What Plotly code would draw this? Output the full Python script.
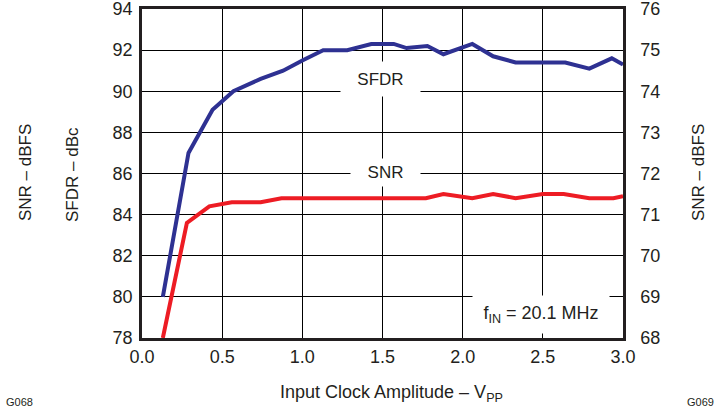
import plotly.graph_objects as go

# SFDR (left axis, dBc) vs input clock amplitude (Vpp)
sfdr_x = [0.13, 0.29, 0.44, 0.57, 0.74, 0.88, 1.00, 1.13, 1.28, 1.43, 1.57,
          1.65, 1.78, 1.88, 2.06, 2.19, 2.33, 2.64, 2.79, 2.93, 3.00]
sfdr = [80.0, 87.0, 89.1, 90.0, 90.6, 91.0, 91.5, 92.0, 92.0, 92.3, 92.3,
        92.1, 92.2, 91.8, 92.3, 91.7, 91.4, 91.4, 91.1, 91.6, 91.3]

# SNR (right axis, dBFS)
snr_x = [0.13, 0.28, 0.42, 0.56, 0.74, 0.87, 1.77, 1.88, 2.06, 2.19, 2.33,
         2.50, 2.63, 2.79, 2.94, 3.00]
snr = [68.0, 70.8, 71.2, 71.3, 71.3, 71.4, 71.4, 71.5, 71.4, 71.5, 71.4,
       71.5, 71.5, 71.4, 71.4, 71.45]

x_ticks = [0.0, 0.5, 1.0, 1.5, 2.0, 2.5, 3.0]

FONT = "Liberation Sans, Arial, sans-serif"
INK = "#231f20"
L, R, T, B = 142, 94, 9, 70

fig = go.Figure()
fig.add_trace(go.Scatter(x=sfdr_x, y=sfdr, mode="lines",
                         line=dict(color="#2e3192", width=4), yaxis="y"))
fig.add_trace(go.Scatter(x=snr_x, y=snr, mode="lines",
                         line=dict(color="#ed1c24", width=4), yaxis="y2"))

axis_common = dict(showline=True, linecolor=INK, linewidth=2.5, automargin=False,
                   tickfont=dict(size=18, color=INK), zeroline=False,
                   ticklabeloverflow="allow")

fig.update_layout(
    width=717, height=408,
    paper_bgcolor="white", plot_bgcolor="white",
    font=dict(family=FONT, color=INK),
    showlegend=False,
    margin=dict(l=L, r=R, t=T, b=B, autoexpand=False),
    xaxis=dict(range=[0, 3], tickvals=x_ticks, tickformat=".1f",
               showgrid=True, gridcolor="black", gridwidth=1,
               mirror=True, ticks="", ticklabelstandoff=1, **axis_common),
    yaxis=dict(range=[78, 94], dtick=2, showgrid=True, gridcolor="black",
               gridwidth=1, mirror=True, ticks="", ticklabelstandoff=3,
               **axis_common),
    yaxis2=dict(range=[68, 76], dtick=1, overlaying="y", side="right",
                showgrid=False, ticks="", ticklabelstandoff=11, **axis_common),
    annotations=[
        dict(text="SFDR", x=1.49, y=90.6, xref="x", yref="y", showarrow=False,
             font=dict(size=17, color=INK), bgcolor="white", width=77, height=32),
        dict(text="SNR", x=1.52, y=86.05, xref="x", yref="y", showarrow=False,
             font=dict(size=17, color=INK), bgcolor="white", width=67, height=25),
        dict(text="f<sub>IN</sub> = 20.1 MHz", x=2.49, y=79.12, xref="x", yref="y",
             showarrow=False, font=dict(size=18, color=INK), bgcolor="white",
             width=134, height=35),
        dict(text="SFDR – dBc", x=72, y=175, textangle=-90),
        dict(text="SNR – dBFS", x=25, y=173, textangle=-90),
        dict(text="SNR – dBFS", x=698, y=173, textangle=-90),
        dict(text="Input Clock Amplitude – V<sub>PP</sub>", x=391, y=393,
             font=dict(size=18, color=INK)),
        dict(text="G068", x=19, y=402, font=dict(size=11, color=INK)),
        dict(text="G069", x=700, y=402, font=dict(size=11, color=INK)),
    ],
)

# paper-pixel annotations: convert pixel positions to paper fractions
pw, ph = 717 - L - R, 408 - T - B
for a in fig.layout.annotations:
    if a.xref is None:
        a.update(xref="paper", yref="paper", showarrow=False,
                 xanchor="center", yanchor="middle",
                 x=(a.x - L) / pw, y=(408 - B - a.y) / ph)
        if a.font.size is None:
            a.font = dict(size=17, color=INK)

fig.write_html("out.html", config={"displayModeBar": False},
               post_script="document.body.style.margin='0';")
